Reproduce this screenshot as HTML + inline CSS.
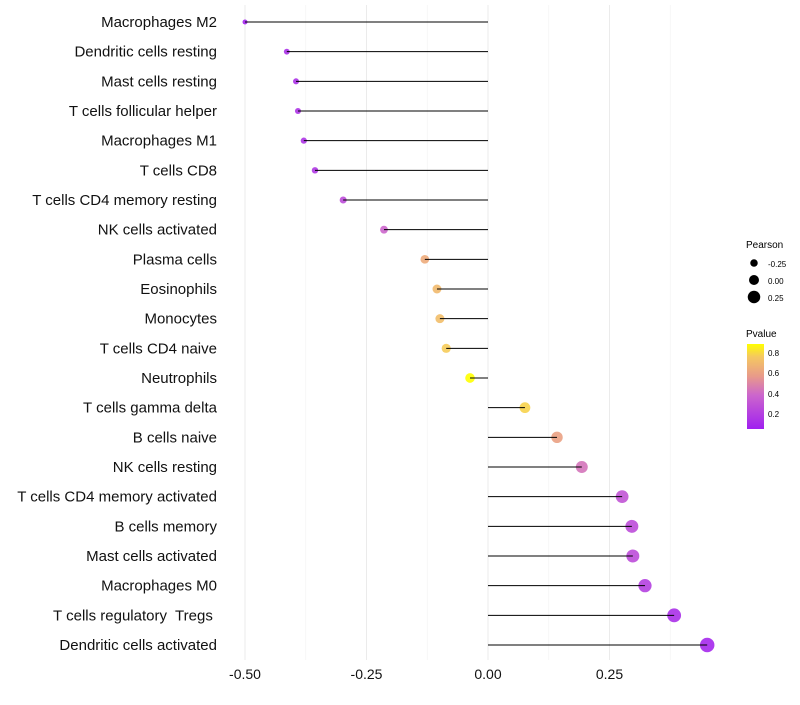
<!DOCTYPE html>
<html><head><meta charset="utf-8"><style>
body{margin:0;background:#fff;font-family:"Liberation Sans",sans-serif;}
svg text{font-family:"Liberation Sans",sans-serif;white-space:pre;}
</style></head><body>
<svg id="chart" width="800" height="700" xml:space="preserve">
<defs><linearGradient id="pg" x1="0" y1="1" x2="0" y2="0">
<stop offset="0" stop-color="#a020f0"/><stop offset="0.4" stop-color="#cc66cc"/><stop offset="0.62" stop-color="#e89a8a"/><stop offset="0.85" stop-color="#f5c860"/><stop offset="1" stop-color="#ffff00"/></linearGradient></defs>
<g id="grid"></g><g id="marks"></g><g id="labels"></g>
<g>
<text x="746" y="248" font-size="10">Pearson</text>
<circle cx="754" cy="263" r="3.75" fill="#000"/><text x="768" y="267" font-size="8">-0.25</text>
<circle cx="754" cy="280" r="5" fill="#000"/><text x="768" y="284" font-size="8">0.00</text>
<circle cx="754" cy="297" r="6.25" fill="#000"/><text x="768" y="301" font-size="8">0.25</text>
<text x="746" y="337" font-size="10">Pvalue</text>
<rect x="747" y="344" width="17" height="85" fill="url(#pg)"/>
<text x="768" y="356" font-size="8">0.8</text><text x="768" y="376" font-size="8">0.6</text><text x="768" y="397" font-size="8">0.4</text><text x="768" y="417" font-size="8">0.2</text>
</g>
</svg>
<script>
const categories=["Macrophages M2","Dendritic cells resting","Mast cells resting","T cells follicular helper","Macrophages M1","T cells CD8","T cells CD4 memory resting","NK cells activated","Plasma cells","Eosinophils","Monocytes","T cells CD4 naive","Neutrophils","T cells gamma delta","B cells naive","NK cells resting","T cells CD4 memory activated","B cells memory","Mast cells activated","Macrophages M0","T cells regulatory  Tregs ","Dendritic cells activated"];
const pearson=[-0.50,-0.414,-0.395,-0.391,-0.379,-0.356,-0.298,-0.214,-0.130,-0.105,-0.099,-0.086,-0.037,0.076,0.142,0.193,0.276,0.296,0.298,0.323,0.383,0.451];
const pvalue=[0.02,0.08,0.09,0.1,0.1,0.12,0.22,0.35,0.6,0.66,0.68,0.73,0.87,0.75,0.56,0.4,0.26,0.22,0.22,0.16,0.08,0.04];
const xTicks=[-0.5,-0.25,0,0.25];
const xTickLabels=["-0.50","-0.25","0.00","0.25"];
const NS="http://www.w3.org/2000/svg";
const xs=v=>488+v*486;
const ys=i=>22+i*(623/21);
const rs=p=>5+5*p;
const stops=[[0,[160,32,240]],[0.35,[204,102,204]],[0.53,[232,154,138]],[0.72,[245,200,96]],[0.87,[255,255,0]]];
function col(p){if(p<=stops[0][0])return stops[0][1];for(let i=1;i<stops.length;i++){if(p<=stops[i][0]){const a=stops[i-1],b=stops[i],t=(p-a[0])/(b[0]-a[0]);return a[1].map((c,k)=>Math.round(c+(b[1][k]-c)*t));}}return stops[stops.length-1][1];}
function mk(tag,attrs,parent){const e=document.createElementNS(NS,tag);for(const k in attrs)e.setAttribute(k,attrs[k]);parent.appendChild(e);return e;}
const grid=document.getElementById('grid'),marks=document.getElementById('marks'),labels=document.getElementById('labels');
[-0.375,-0.125,0.125,0.375].forEach(v=>{const l=mk('line',{x1:xs(v),x2:xs(v),y1:5,y2:660,stroke:'#f3f3f3','stroke-width':0.6},grid);

});
xTicks.forEach((v,i)=>{const l=mk('line',{x1:xs(v),x2:xs(v),y1:5,y2:660,stroke:'#ebebeb','stroke-width':1},grid);


const t=mk('text',{x:xs(v),y:679,'font-size':14,'text-anchor':'middle',fill:'#111'},labels);t.textContent=xTickLabels[i];

});
categories.forEach((c,i)=>{const y=ys(i);
const t=mk('text',{x:217,y:y+5,'font-size':15,'text-anchor':'end',fill:'#111'},labels);t.textContent=c;


const cc=col(pvalue[i]);
const ci=mk('circle',{cx:xs(pearson[i]),cy:y,r:rs(pearson[i]),fill:`rgb(${cc.join(',')})`,'fill-opacity':0.9},marks);


const l=mk('line',{x1:xs(0),x2:xs(pearson[i]),y1:y,y2:y,stroke:'#000','stroke-width':1},marks);

});
</script>
</body></html>
